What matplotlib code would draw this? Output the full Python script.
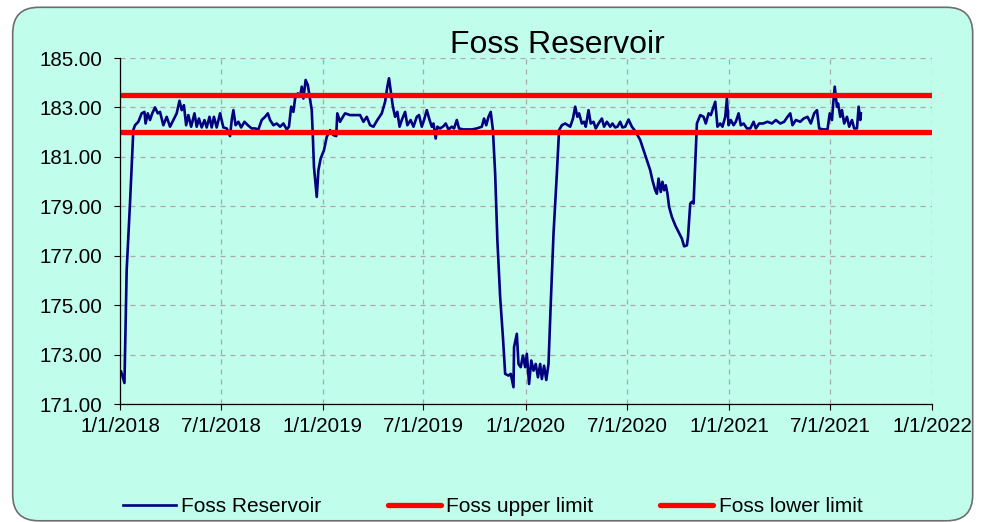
import matplotlib
matplotlib.use("Agg")
import matplotlib.pyplot as plt
import matplotlib.dates as mdates
from matplotlib.patches import FancyBboxPatch
from matplotlib.ticker import FuncFormatter
import pandas as pd

plt.rcParams['font.family'] = ['Liberation Sans', 'DejaVu Sans']

# Foss Reservoir water level (days since 1/1/2018)
start = pd.Timestamp('2018-01-01')
days = [2, 8, 12, 18, 24, 27, 33, 39, 44, 46, 50, 54, 58, 63, 68, 72, 78, 84, 90, 96,
        102, 107, 111, 115, 119, 123, 128, 134, 138, 142, 147, 152, 156, 161, 165, 169,
        174, 180, 186, 192, 198, 201, 204, 208, 213, 218, 224, 230, 237, 243, 249, 255,
        261, 266, 270, 276, 282, 288, 294, 300, 304, 308, 312, 315, 320, 324, 327, 330,
        334, 338, 345, 347, 349, 354, 357, 361, 367, 372, 378, 384, 389, 391, 396, 401,
        405, 414, 423, 432, 438, 444, 450, 456, 463, 471, 477, 481, 484, 487, 491, 495,
        499, 503, 507, 513, 517, 523, 528, 534, 538, 543, 547, 552, 557, 561, 564, 568,
        571, 576, 582, 586, 591, 597, 601, 606, 610, 618, 624, 633, 642, 651, 655, 659,
        663, 667, 671, 675, 679, 684, 689, 693, 699, 703, 708, 709, 714, 717, 721, 725,
        729, 732, 736, 740, 744, 748, 752, 756, 759, 763, 767, 771, 775, 780, 786, 790,
        795, 801, 810, 815, 819, 823, 826, 831, 835, 838, 843, 847, 852, 856, 861, 867,
        871, 876, 882, 886, 891, 895, 900, 904, 909, 915, 921, 928, 936, 942, 948, 954,
        958, 963, 966, 969, 973, 976, 979, 982, 985, 988, 993, 999, 1005, 1011, 1015, 1020,
        1022, 1026, 1029, 1032, 1035, 1038, 1044, 1050, 1054, 1059, 1063, 1066, 1071, 1075,
        1080, 1084, 1089, 1092, 1095, 1099, 1104, 1108, 1113, 1117, 1122, 1128, 1134, 1140,
        1144, 1150, 1157, 1165, 1173, 1180, 1188, 1195, 1201, 1206, 1210, 1216, 1224, 1230,
        1237, 1243, 1249, 1254, 1258, 1265, 1273, 1277, 1281, 1283, 1286, 1290, 1292, 1296,
        1299, 1303, 1308, 1312, 1317, 1321, 1326, 1329, 1332, 1333]
level = [172.31, 171.85, 176.42, 179.13, 182.09, 182.28, 182.42, 182.76, 182.82, 182.35,
         182.76, 182.49, 182.76, 183.00, 182.76, 182.82, 182.28, 182.62, 182.22, 182.49,
         182.76, 183.27, 182.89, 183.09, 182.28, 182.69, 182.22, 182.76, 182.22, 182.55,
         182.19, 182.49, 182.19, 182.62, 182.19, 182.62, 182.19, 182.76, 182.19, 182.15,
         181.84, 182.49, 182.89, 182.28, 182.42, 182.19, 182.42, 182.28, 182.15, 182.15,
         182.11, 182.49, 182.62, 182.76, 182.49, 182.28, 182.35, 182.22, 182.35, 182.11,
         182.22, 183.03, 182.82, 183.36, 183.57, 183.43, 183.84, 183.36, 184.11, 183.90,
         182.89, 181.81, 180.59, 179.38, 180.46, 180.93, 181.27, 181.81, 182.08, 181.88,
         181.84, 182.76, 182.42, 182.62, 182.76, 182.69, 182.69, 182.69, 182.42, 182.62,
         182.28, 182.22, 182.49, 182.76, 183.23, 183.84, 184.18, 183.70, 183.03, 182.62,
         182.82, 182.22, 182.49, 182.82, 182.28, 182.49, 182.22, 182.62, 182.69, 182.22,
         182.49, 182.89, 182.49, 182.22, 182.35, 181.74, 182.22, 182.15, 182.24, 182.35,
         182.11, 182.22, 182.15, 182.49, 182.15, 182.11, 182.11, 182.11, 182.15, 182.22,
         182.55, 182.28, 182.62, 182.82, 182.08, 180.32, 177.62, 175.32, 173.70, 172.22,
         172.15, 172.22, 171.68, 173.30, 173.84, 172.62, 172.49, 172.96, 172.49, 173.03,
         171.81, 172.76, 172.35, 172.62, 172.08, 172.62, 172.01, 172.55, 171.97, 172.62,
         175.05, 177.89, 180.32, 182.08, 182.28, 182.35, 182.22, 182.55, 183.03, 182.62,
         182.76, 182.35, 182.42, 182.22, 182.89, 182.35, 182.42, 182.15, 182.35, 182.55,
         182.22, 182.42, 182.22, 182.35, 182.19, 182.22, 182.42, 182.19, 182.22, 182.51,
         182.22, 182.01, 181.68, 181.27, 180.86, 180.46, 180.05, 179.65, 179.51, 180.12,
         179.58, 179.99, 179.65, 179.85, 179.51, 178.97, 178.57, 178.23, 177.96, 177.69,
         177.38, 177.42, 177.76, 179.11, 179.18, 179.11, 180.73, 182.35, 182.69, 182.62,
         182.35, 182.76, 182.69, 182.89, 183.23, 182.22, 182.35, 182.22, 182.62, 183.36,
         182.28, 182.49, 182.28, 182.42, 182.76, 182.28, 182.35, 182.15, 182.15, 182.42,
         182.15, 182.35, 182.35, 182.42, 182.35, 182.49, 182.35, 182.42, 182.62, 182.76,
         182.28, 182.49, 182.42, 182.55, 182.62, 182.35, 182.76, 182.89, 182.15, 182.11,
         182.11, 182.76, 182.49, 183.09, 183.84, 183.03, 183.16, 182.62, 182.89, 182.35,
         182.62, 182.22, 182.49, 182.15, 182.15, 183.03, 182.49, 182.76]

limit_dates = ['2018-01-01', '2022-01-01']
upper_limit = [183.5, 183.5]
lower_limit = [182.0, 182.0]
y_ticks = [171, 173, 175, 177, 179, 181, 183, 185]

dates = start + pd.to_timedelta(days, unit='D')
limit_dates = pd.to_datetime(limit_dates)

bg = '#C1FDEB'
fig = plt.figure(figsize=(9.88, 5.22), dpi=100, facecolor='white')

# rounded chart area, kept behind the axes
box = FancyBboxPatch((0.127, 0.012), 9.6, 5.135,
                     boxstyle='round,pad=0,rounding_size=0.26',
                     transform=fig.dpi_scale_trans, facecolor=bg,
                     edgecolor='#6E6E6E', linewidth=1.2, zorder=-1)
fig.patches.append(box)

ax = fig.add_axes([120 / 988, 1 - 404 / 522, 812 / 988, 346 / 522])
ax.set_facecolor('none')

ax.plot(dates, level, color='#000080', linewidth=1.9, label='Foss Reservoir', zorder=3)
ax.plot(limit_dates, upper_limit, color='#FF0000', linewidth=3.8,
        solid_capstyle='round', label='Foss upper limit', zorder=4)
ax.plot(limit_dates, lower_limit, color='#FF0000', linewidth=3.8,
        solid_capstyle='round', label='Foss lower limit', zorder=4)

ax.set_xlim(pd.Timestamp('2018-01-01'), pd.Timestamp('2022-01-01'))
ax.set_ylim(171, 185)
ax.set_yticks(y_ticks)
ax.yaxis.set_major_formatter(FuncFormatter(lambda v, p: f'{v:.2f}'))
ax.xaxis.set_major_locator(mdates.MonthLocator(bymonth=[1, 7], bymonthday=1))
ax.xaxis.set_major_formatter(FuncFormatter(
    lambda v, p: (lambda d: f'{d.month}/{d.day}/{d.year}')(mdates.num2date(v))))

ax.grid(True, color='#A9A9A9', linestyle=(0, (4, 4)), linewidth=0.9)
ax.spines['top'].set_visible(False)
ax.spines['right'].set_visible(False)
for s in ('left', 'bottom'):
    ax.spines[s].set_color('black')
    ax.spines[s].set_linewidth(0.9)
    ax.spines[s].set_zorder(5)
ax.tick_params(axis='y', direction='out', length=4.5, width=0.8, pad=8.5, labelsize=14.8)
ax.tick_params(axis='x', direction='out', length=4.5, width=0.8, pad=5, labelsize=14.8)

fig.text(557.5 / 988, 1 - 53 / 522, 'Foss Reservoir', ha='center', va='baseline', fontsize=23)

fig.legend(loc='center left', bbox_to_anchor=(123 / 988, 1 - 507 / 522), ncol=3,
           frameon=False, fontsize=15, borderpad=0, borderaxespad=0,
           handlelength=2.55, handletextpad=0.25, columnspacing=3.2)

fig.savefig('out.png', dpi=100, facecolor='white')
